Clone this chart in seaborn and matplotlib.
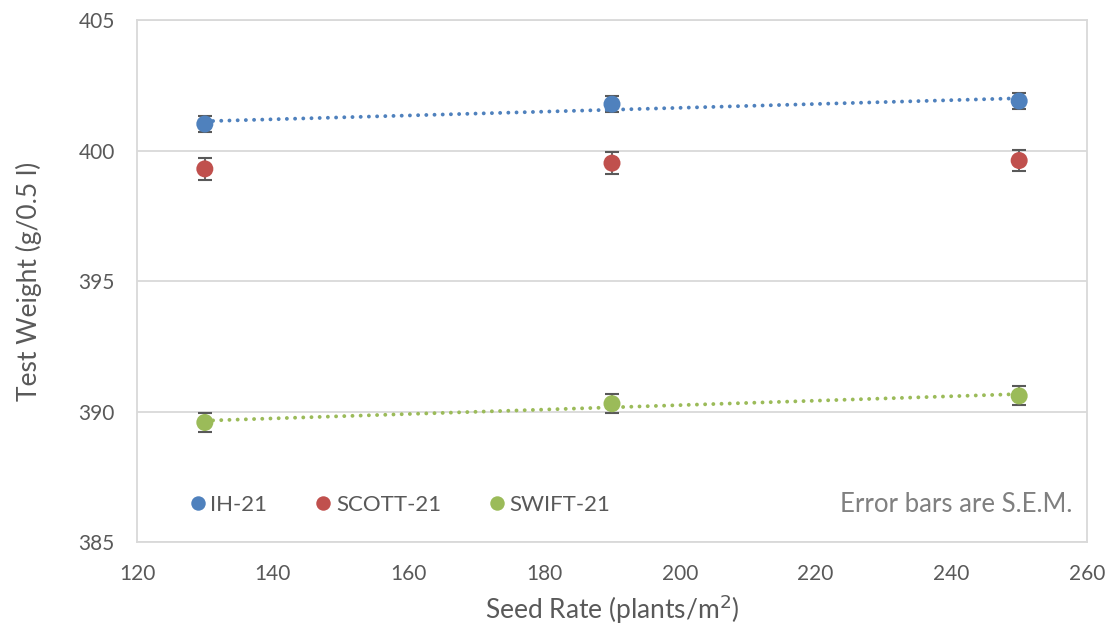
import numpy as np
import pandas as pd
import matplotlib
matplotlib.use("Agg")
import matplotlib.pyplot as plt
import seaborn as sns

seed_rate = [130, 190, 250]
varieties = ["IH-21", "SCOTT-21", "SWIFT-21"]
ih_mean = [401.02, 401.78, 401.90]
ih_sem = [0.30, 0.30, 0.30]
scott_mean = [399.30, 399.52, 399.62]
scott_sem = [0.43, 0.42, 0.42]
swift_mean = [389.58, 390.30, 390.60]
swift_sem = [0.36, 0.37, 0.36]
trend_varieties = ["IH-21", "SWIFT-21"]

colors = {"IH-21": "#4F81BD", "SCOTT-21": "#C0504D", "SWIFT-21": "#9BBB59"}

df = pd.DataFrame({
    "seed": seed_rate * 3,
    "variety": [v for v in varieties for _ in seed_rate],
    "mean": ih_mean + scott_mean + swift_mean,
    "sem": ih_sem + scott_sem + swift_sem,
})

sns.set_theme(style="white")
plt.rcParams["font.family"] = ["Lato", "DejaVu Sans"]
text_col = "#595959"

fig = plt.figure(figsize=(11.1, 6.3), dpi=100)
ax = fig.add_axes([0.1234, 0.1397, 0.8559, 0.8283])

for v in varieties:
    d = df[df.variety == v]
    ax.errorbar(d["seed"], d["mean"], yerr=d["sem"], fmt="none", ecolor="#595959",
                elinewidth=1.3, capsize=4.8, capthick=1.5, zorder=2)

for v in trend_varieties:
    d = df[df.variety == v]
    sns.regplot(data=d, x="seed", y="mean", ax=ax, scatter=False, ci=None, truncate=True,
                color=colors[v], line_kws=dict(ls=(0, (0.01, 2.1)), lw=2.8,
                                               dash_capstyle="round", zorder=3))

sns.scatterplot(data=df, x="seed", y="mean", hue="variety", palette=colors, ax=ax,
                s=150, edgecolor="none", zorder=4, legend=True)

ax.set_xlim(120, 260)
ax.set_ylim(385, 405)
ax.set_xticks(np.arange(120, 261, 20))
ax.set_yticks(np.arange(385, 406, 5))
ax.yaxis.grid(True, color="#D9D9D9", lw=1.3)
ax.xaxis.grid(False)
for s in ax.spines.values():
    s.set_color("#D9D9D9")
    s.set_linewidth(1.3)
ax.tick_params(axis="both", labelsize=15, colors=text_col, length=0, pad=16)
ax.set_xlabel("Seed Rate (plants/m$^{2}$)", fontsize=19, color=text_col, labelpad=6)
ax.set_ylabel("Test Weight (g/0.5 l)", fontsize=19, color=text_col, labelpad=26)

h, l = ax.get_legend_handles_labels()
leg = ax.legend(h, l, loc="center left", bbox_to_anchor=(0.031, 0.071), ncol=3, frameon=False,
                fontsize=16, handletextpad=-0.42, columnspacing=1.5, markerscale=0.85,
                borderaxespad=0)
for t in leg.get_texts():
    t.set_color(text_col)

ax.text(0.985, 0.071, "Error bars are S.E.M.", transform=ax.transAxes, ha="right", va="center",
        fontsize=18.5, color="#808080")

fig.savefig("out.png", dpi=100)
